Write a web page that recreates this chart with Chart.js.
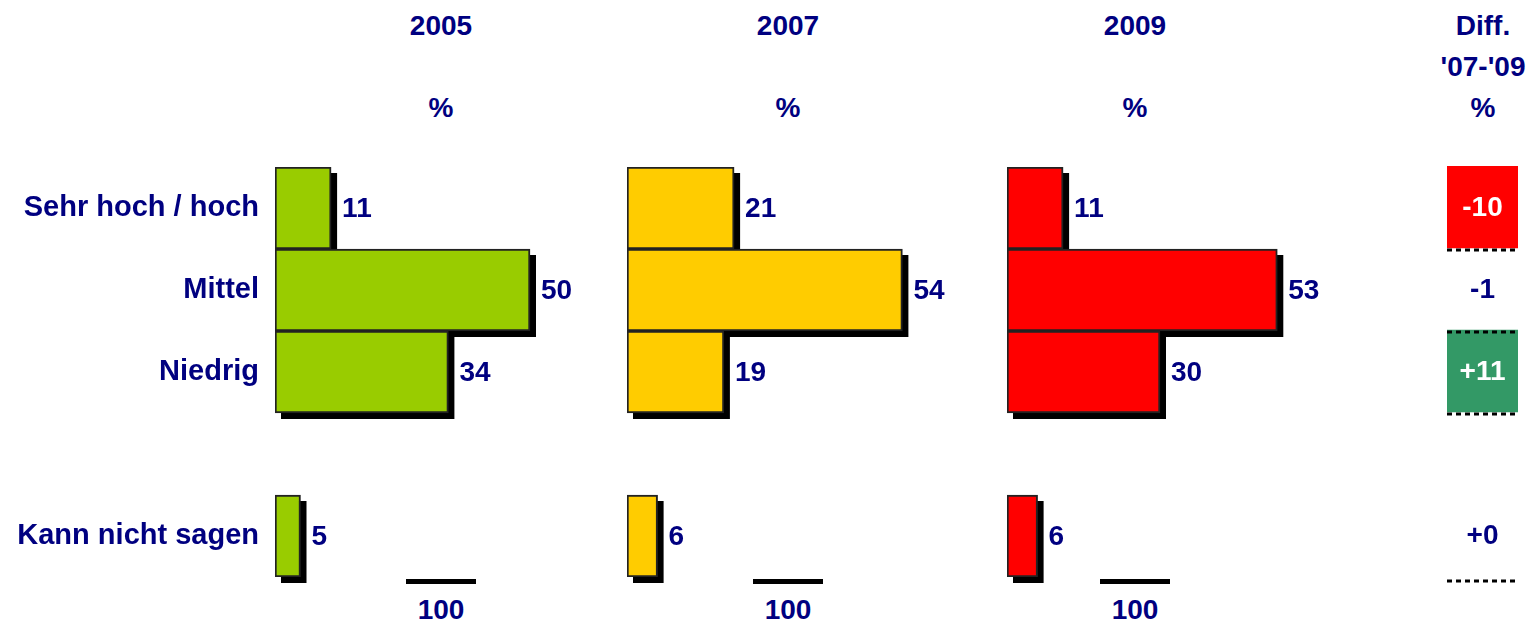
<!DOCTYPE html>
<html>
<head>
<meta charset="utf-8">
<script src="https://cdn.jsdelivr.net/npm/chart.js@4.4.1/dist/chart.umd.min.js"></script>
<style>
  body { margin: 0; background: #fff; }
  #wrap { position: relative; width: 1533px; height: 625px; overflow: hidden;
          font-family: "Liberation Sans", Arial, sans-serif; font-weight: bold; color: #000080; }
  #wrap canvas { position: absolute; top: 0; }
  .hd { position: absolute; top: 5px; width: 140px; text-align: center; font-size: 28px; line-height: 41px; }
  .total { position: absolute; top: 579px; width: 70px; border-top: 5px solid #000;
           text-align: center; font-size: 28px; line-height: 52px; }
</style>
</head>
<body>
<div id="wrap">
  <div class="hd" style="left:371px">2005<br>&nbsp;<br>%</div>
  <div class="hd" style="left:718px">2007<br>&nbsp;<br>%</div>
  <div class="hd" style="left:1065px">2009<br>&nbsp;<br>%</div>
  <div class="hd" style="left:1413px">Diff.<br>'07-'09<br>%</div>

  <div class="total" id="t2005" style="left:406px"></div>
  <div class="total" id="t2007" style="left:753px"></div>
  <div class="total" id="t2009" style="left:1100px"></div>

  <canvas id="c2005" width="620" height="625" style="left:0px"></canvas>
  <canvas id="c2007" width="380" height="625" style="left:600px"></canvas>
  <canvas id="c2009" width="400" height="625" style="left:980px"></canvas>
  <canvas id="cdiff" width="113" height="625" style="left:1420px"></canvas>
</div>

<script>
// data (row 4 is the empty gap row)
const categories = ['Sehr hoch / hoch', 'Mittel', 'Niedrig', '', 'Kann nicht sagen'];
const values2005 = [11, 50, 34, null, 5];
const values2007 = [21, 54, 19, null, 6];
const values2009 = [11, 53, 30, null, 6];
const diffValues = [-10, -1, 11, null, 0];

const NAVY = '#000080';
const FAMILY = '"Liberation Sans", Arial, sans-serif';
const FONT = { family: FAMILY, size: 28, weight: 'bold' };
const LABEL_FONT = { family: FAMILY, size: 29, weight: 'bold' };

Chart.defaults.animation = false;
Chart.defaults.responsive = false;
Chart.defaults.devicePixelRatio = 1;
Chart.defaults.plugins.legend.display = false;
Chart.defaults.plugins.tooltip.enabled = false;

// black drop shadow behind each bar
const shadowPlugin = {
  id: 'shadow',
  beforeDatasetsDraw(chart) {
    const ctx = chart.ctx;
    ctx.save();
    ctx.fillStyle = '#000';
    chart.getDatasetMeta(0).data.forEach((bar, i) => {
      if (chart.data.datasets[0].data[i] == null) return;
      const h = bar.height;
      ctx.fillRect(bar.base + 6, bar.y - h / 2 + 6, bar.x - bar.base, h);
    });
    ctx.restore();
  }
};

// value next to each bar
const valuePlugin = {
  id: 'values',
  afterDatasetsDraw(chart) {
    const ctx = chart.ctx;
    ctx.save();
    ctx.font = `bold ${FONT.size}px ${FAMILY}`;
    ctx.fillStyle = NAVY;
    ctx.textAlign = 'left';
    ctx.textBaseline = 'middle';
    chart.getDatasetMeta(0).data.forEach((bar, i) => {
      const v = chart.data.datasets[0].data[i];
      if (v == null) return;
      ctx.fillText(String(v), bar.x + 11, bar.y + 1);
    });
    ctx.restore();
  }
};

// every panel uses 0..60 over 306px, so the bars share one scale
function makePanel(id, data, color, zeroX, withLabels) {
  const canvas = document.getElementById(id);
  new Chart(canvas, {
    type: 'bar',
    data: {
      labels: categories,
      datasets: [{
        data: data,
        backgroundColor: color,
        borderColor: '#222',
        borderWidth: 2,
        borderSkipped: false,
        barPercentage: 1,
        categoryPercentage: 1
      }]
    },
    options: {
      indexAxis: 'y',
      layout: { padding: { left: 0, top: 167, bottom: 48, right: canvas.width - zeroX - 306 } },
      scales: {
        x: { display: false, min: 0, max: 60 },
        y: {
          display: withLabels,
          afterFit: s => { s.width = zeroX; },
          grid: { display: false, drawTicks: false },
          border: { display: false },
          ticks: { color: NAVY, font: LABEL_FONT, padding: 16 }
        }
      }
    },
    plugins: [shadowPlugin, valuePlugin]
  });
  const total = data.reduce((s, v) => s + (v || 0), 0);
  document.getElementById('t' + id.slice(1)).textContent = total;
}

makePanel('c2005', values2005, '#99CC00', 275, true);
makePanel('c2007', values2007, '#FFCC00', 27, false);
makePanel('c2009', values2009, '#FF0000', 27, false);

// difference column: boxes only for the larger shifts
const diffColors = diffValues.map(d => d == null ? null : (d <= -5 ? '#FF0000' : (d >= 5 ? '#339966' : null)));

const diffPlugin = {
  id: 'diffText',
  afterDatasetsDraw(chart) {
    const ctx = chart.ctx;
    const area = chart.chartArea;
    const y = chart.scales.y;
    const rowH = (area.bottom - area.top) / categories.length;
    const cx = (area.left + area.right) / 2;
    ctx.save();
    diffValues.forEach((d, i) => {
      if (d == null) return;
      const cy = y.getPixelForValue(i);
      // dotted rule under the row (the last one sits a bit lower)
      const ly = cy + rowH / 2 + (i === diffValues.length - 1 ? 5 : 2);
      ctx.strokeStyle = '#000';
      ctx.lineWidth = 3;
      ctx.setLineDash([5, 4]);
      ctx.beginPath();
      ctx.moveTo(area.left, ly);
      ctx.lineTo(area.right, ly);
      ctx.stroke();
      ctx.setLineDash([]);
      ctx.font = `bold ${FONT.size}px ${FAMILY}`;
      ctx.textAlign = 'center';
      ctx.textBaseline = 'middle';
      ctx.fillStyle = diffColors[i] ? '#fff' : NAVY;
      ctx.fillText((d >= 0 ? '+' : '') + d, cx, cy + 1);
    });
    ctx.restore();
  }
};

new Chart(document.getElementById('cdiff'), {
  type: 'bar',
  data: {
    labels: categories,
    datasets: [{
      data: diffColors.map(c => c ? 1 : null),
      backgroundColor: diffColors.map(c => c || 'transparent'),
      borderWidth: 0,
      barPercentage: 1,
      categoryPercentage: 1
    }]
  },
  options: {
    indexAxis: 'y',
    layout: { padding: { left: 27, right: 15, top: 166, bottom: 49 } },
    scales: {
      x: { display: false, min: 0, max: 1 },
      y: { display: false }
    }
  },
  plugins: [diffPlugin]
});
</script>
</body>
</html>
